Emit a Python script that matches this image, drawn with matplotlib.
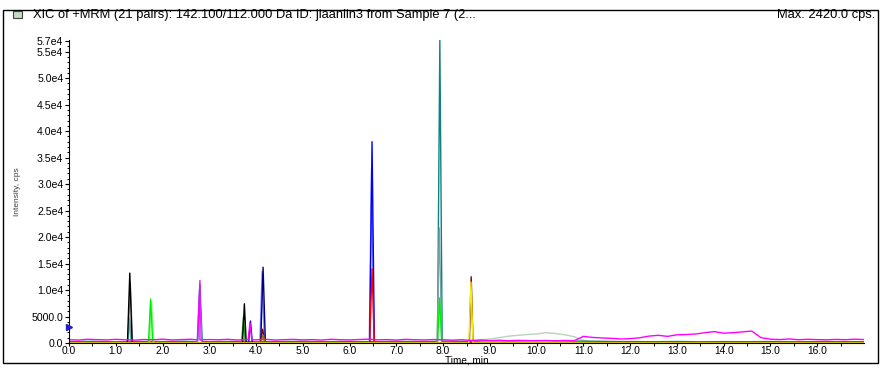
import numpy as np
import matplotlib
matplotlib.use('Agg')
import matplotlib.pyplot as plt
from matplotlib.patches import Rectangle

plt.rcParams['font.family'] = ['Liberation Sans', 'DejaVu Sans']

title_text = 'XIC of +MRM (21 pairs): 142.100/112.000 Da ID: jiaanlin3 from Sample 7 (2...'
max_text = 'Max. 2420.0 cps.'

# y ticks and labels as shown
y_ticks = [0, 5000, 10000, 15000, 20000, 25000, 30000, 35000, 40000, 45000, 50000, 55000, 57000]
y_labels = ['0.0', '5000.0', '1.0e4', '1.5e4', '2.0e4', '2.5e4', '3.0e4', '3.5e4',
            '4.0e4', '4.5e4', '5.0e4', '5.5e4', '5.7e4']
x_ticks = [0, 1, 2, 3, 4, 5, 6, 7, 8, 9, 10, 11, 12, 13, 14, 15, 16]
x_labels = ['%.1f' % v for v in x_ticks]
threshold_level = 3000

# magenta trace: baseline every 0.2 min + peaks
magenta_base_t = np.arange(0, 17.01, 0.2)
magenta_base = [620, 560, 700, 640, 580, 690, 610, 540, 660, 600,
                720, 580, 640, 700, 560, 650, 610, 690, 570, 640,
                600, 700, 560, 630, 680, 590, 640, 560, 700, 620,
                580, 660, 720, 600, 640, 560, 690, 610, 580, 650,
                600, 540, 620, 480, 560, 450, 520, 430, 500, 460,
                420, 480, 400, 470, 420, 1250, 1050, 950, 880, 760,
                820, 980, 1300, 1450, 1250, 1550, 1600, 1700, 1950, 2150,
                1850, 1950, 2100, 2250, 1000, 720, 650, 760, 620, 700,
                640, 600, 680, 620, 720, 650]
magenta_peak_t = [2.75, 2.80, 2.85, 3.83, 3.87, 3.91]
magenta_peak = [600, 11800, 600, 600, 3800, 600]

# teal trace: noisy baseline every 0.5 min + peaks
teal_base_t = np.arange(0, 17.01, 0.5)
teal_base = [250, 300, 220, 280, 260, 310, 240, 290, 230, 270,
             300, 250, 280, 240, 300, 260, 350, 300, 420, 380,
             450, 400, 350, 300, 260, 240, 280, 230, 260, 240,
             270, 230, 260, 250, 240]
teal_peak_t = [2.75, 2.80, 2.85, 7.88, 7.93, 7.98]
teal_peak = [250, 11000, 250, 300, 57200, 300]

# light grey-green hump 8.6 - 11.0
hump_t = [0.0, 8.4, 8.6, 8.8, 9.0, 9.2, 9.4, 9.6, 9.8, 10.0, 10.2, 10.4, 10.6, 10.8, 11.0, 11.2, 17.0]
hump = [100, 100, 350, 600, 750, 1000, 1300, 1450, 1600, 1700, 1950, 1800, 1550, 1200, 500, 150, 100]

# single-peak traces: times, intensities
black_t = [0, 1.25, 1.30, 1.35, 3.71, 3.75, 3.79, 17]
black = [0, 0, 13200, 0, 0, 7400, 0, 0]
gray_t = [0, 1.26, 1.31, 1.36, 17]
gray = [0, 0, 11500, 0, 0]
cyan_t = [0, 1.25, 1.29, 1.33, 17]
cyan = [0, 0, 4700, 0, 0]
green_t = [0, 1.70, 1.745, 1.79, 7.88, 7.925, 7.97, 17]
green = [60, 60, 8300, 60, 60, 8500, 60, 60]
lightgreen_t = [0, 1.72, 1.765, 1.81, 17]
lightgreen = [0, 0, 7800, 0, 0]
darkgreen_t = [0, 3.69, 3.73, 3.77, 17]
darkgreen = [0, 0, 4900, 0, 0]
lavender_t = [0, 2.74, 2.79, 2.84, 4.08, 4.13, 4.18, 6.42, 6.47, 6.52, 17]
lavender = [0, 0, 10200, 0, 0, 13500, 0, 0, 33000, 0, 0]
blue_t = [0, 3.84, 3.88, 3.92, 6.43, 6.48, 6.53, 17]
blue = [0, 0, 4150, 0, 0, 38000, 0, 0]
navy_t = [0, 4.10, 4.15, 4.20, 17]
navy = [0, 0, 14300, 0, 0]
red_t = [0, 6.43, 6.48, 6.53, 17]
red = [0, 0, 14000, 0, 0]
darkred_t = [0, 4.09, 4.14, 4.19, 8.56, 8.60, 8.64, 17]
darkred = [0, 0, 2600, 0, 0, 12500, 0, 0]
olive_t = [0, 4.10, 4.15, 4.20, 17]
olive = [0, 0, 1500, 0, 0]
grayteal_t = [0, 1.26, 1.30, 1.34, 7.87, 7.92, 7.97, 17]
grayteal = [0, 0, 4200, 0, 0, 21700, 0, 0]
yellow_t = [0, 8.55, 8.595, 8.64, 17]
yellow = [0, 0, 11500, 0, 0]

magenta_t = np.concatenate([magenta_base_t, magenta_peak_t])
magenta = np.concatenate([magenta_base, magenta_peak])
order = np.argsort(magenta_t, kind='stable')
magenta_t, magenta = magenta_t[order], magenta[order]

teal_t = np.concatenate([teal_base_t, teal_peak_t])
teal = np.concatenate([teal_base, teal_peak])
order = np.argsort(teal_t, kind='stable')
teal_t, teal = teal_t[order], teal[order]

traces = [
    (hump_t, hump, '#b8d4b8'),
    (gray_t, gray, '#8c8c8c'),
    (cyan_t, cyan, '#00c8c8'),
    (teal_t, teal, '#108080'),
    (grayteal_t, grayteal, '#7aa4a4'),
    (lightgreen_t, lightgreen, '#80ff80'),
    (green_t, green, '#00ee00'),
    (darkgreen_t, darkgreen, '#20a020'),
    (black_t, black, '#000000'),
    (lavender_t, lavender, '#8080ff'),
    (blue_t, blue, '#0000ff'),
    (navy_t, navy, '#000080'),
    (red_t, red, '#ff0000'),
    (darkred_t, darkred, '#800000'),
    (olive_t, olive, '#808000'),
    (yellow_t, yellow, '#f0f000'),
    (magenta_t, magenta, '#ff00ff'),
]

fig = plt.figure(figsize=(8.82, 3.70), dpi=100)
ax = fig.add_axes([69 / 882, 1 - 343 / 370, 795 / 882, 303 / 370])

for t, y, c in traces:
    ax.plot(t, y, color=c, lw=1.0)

ax.plot([0], [threshold_level], marker='>', color='#2020c0', markersize=4, clip_on=False, zorder=5)

ax.set_xlim(0, 17)
ax.set_ylim(0, 57200)
ax.set_xticks(x_ticks)
ax.set_xticklabels(x_labels, fontsize=7.4)
ax.set_xticks(np.arange(0.5, 17, 1.0), minor=True)
ax.set_yticks(y_ticks)
ax.set_yticklabels(y_labels, fontsize=7.6)
ax.set_yticks(np.arange(0, 57001, 1000), minor=True)
ax.tick_params(axis='both', which='major', length=3, width=0.8, pad=1)
ax.tick_params(axis='x', which='major', length=2, pad=0)
ax.tick_params(axis='both', which='minor', length=1.8, width=0.7)
ax.spines['top'].set_visible(False)
ax.spines['right'].set_visible(False)
ax.set_xlabel('Time, min', fontsize=7.2, labelpad=-0.5)
ax.set_ylabel('Intensity, cps', fontsize=6, color='#404040', labelpad=8)

# outer frame and header
fig.patches.append(Rectangle((3 / 882, 1 - 363 / 370), 875 / 882, 353 / 370,
                             transform=fig.transFigure, fill=False, edgecolor='black', lw=1))
fig.patches.append(Rectangle((13 / 882, 1 - 18 / 370), 9 / 882, 7 / 370,
                             transform=fig.transFigure, facecolor='#c0dcc0', edgecolor='#404040', lw=0.8))
fig.text(33 / 882, 1 - 15 / 370, title_text, fontsize=9.3, va='center', ha='left')
fig.text(875 / 882, 1 - 15 / 370, max_text, fontsize=9.3, va='center', ha='right')

fig.savefig('out.png', dpi=100)
